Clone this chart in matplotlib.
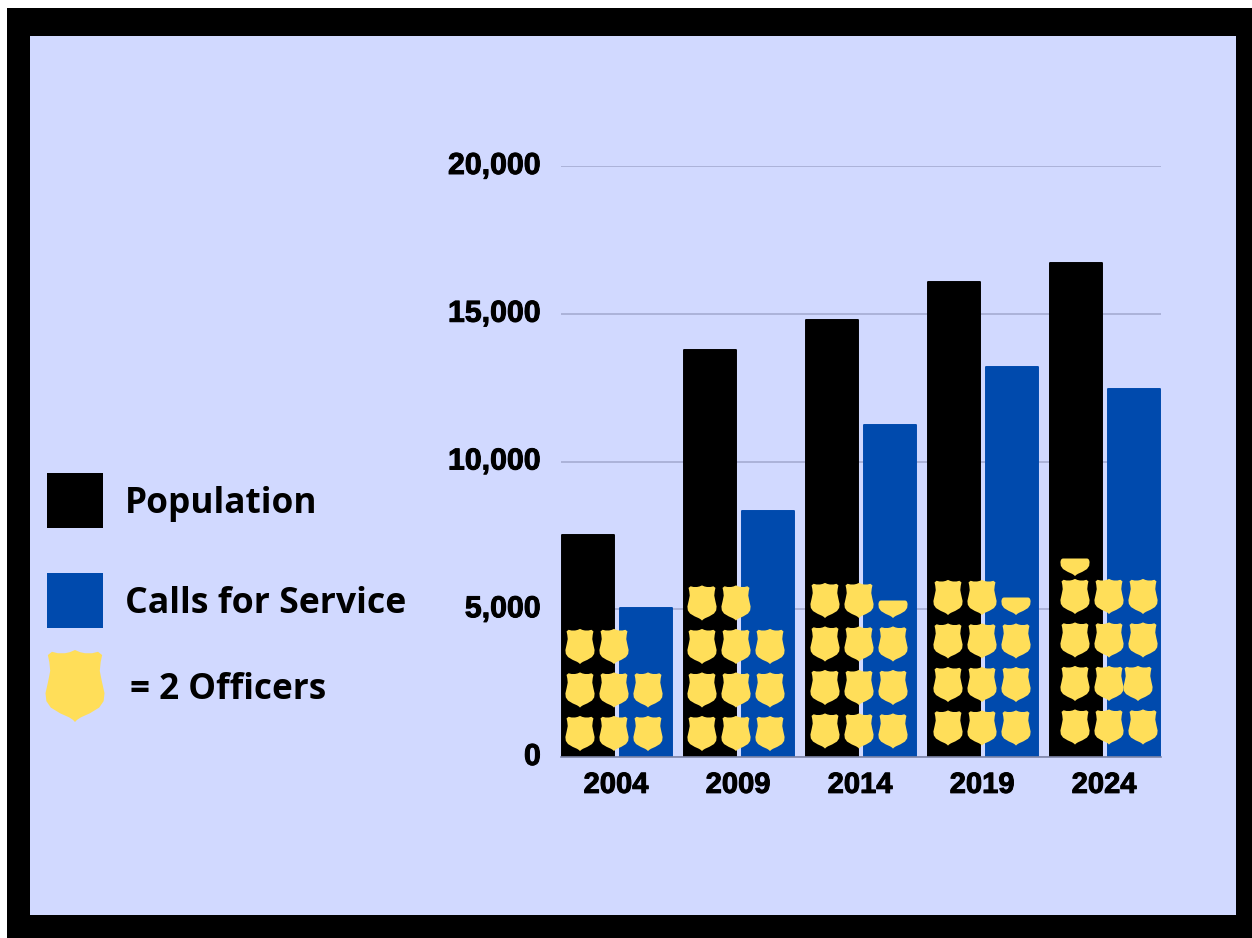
import numpy as np
import matplotlib
matplotlib.use('Agg')
import matplotlib.pyplot as plt
import matplotlib.patheffects as pe
from matplotlib.patches import Rectangle, PathPatch
from matplotlib.path import Path
from matplotlib.transforms import Affine2D, ScaledTranslation

W, H = 1252, 938

years = ['2004', '2009', '2014', '2019', '2024']
population = [7520, 13780, 14790, 16080, 16720]
calls = [5050, 8330, 11240, 13200, 12460]
officers = [16, 22, 23, 23, 25]
yticks = [0, 5000, 10000, 15000, 20000]

BG = '#d1d9ff'
BLUE = '#004aad'
GOLD = '#ffde59'
GRID = '#a9afd6'

# right half of the badge outline, x and y in -1..1
right_side = [(0, 1), (.17, .94), (.34, .91), (.58, .91), (.78, .95), (.92, .86), (.87, .66),
              (.84, .42), (.91, .13), (1, -.2), (.97, -.42), (.82, -.6), (.5, -.76),
              (.2, -.87), (.07, -.94), (0, -1)]
right_half = [(.84, 0), (.92, -.03), (.97, -.1), (1, -.2), (.97, -.42), (.82, -.6), (.5, -.76),
              (.2, -.87), (.07, -.94), (0, -1)]


def mirrored(side):
    pts = side + [(-a, b) for a, b in side[-2::-1]]
    return Path(pts + [pts[0]], closed=True)


FULL = mirrored(right_side)
HALF = mirrored(right_half)


def fig_rect(x0, y0, x1, y1, color, z=0):
    fig.add_artist(Rectangle((x0 / W, 1 - y1 / H), (x1 - x0) / W, (y1 - y0) / H,
                             transform=fig.transFigure, fc=color, ec='none', zorder=z))


fig = plt.figure(figsize=(W / 100, H / 100), dpi=100, facecolor='white')
fig_rect(7, 8, W, H, 'black')
fig_rect(30, 36, 1236, 915, BG)

ax = fig.add_axes([561 / W, 1 - 757 / H, 600 / W, 591 / H])
ax.patch.set_alpha(0)
ax.set_xlim(-0.459, 4.459)
ax.set_ylim(0, 20000)

x = np.arange(len(years))
bw = 52 / 122
off = 29 / 122
ax.bar(x - off, population, bw, color='black', edgecolor='black', linewidth=1.4, joinstyle='round', zorder=2)
ax.bar(x + off, calls, bw, color=BLUE, edgecolor=BLUE, linewidth=1.4, joinstyle='round', zorder=2)

ax.set_yticks(yticks)
ax.set_yticklabels([f'{v:,}' for v in yticks])
ax.set_xticks(x)
ax.set_xticklabels(years)
ax.grid(axis='y', color=GRID, lw=1.3, zorder=1)
ax.set_axisbelow(True)
for side in ['top', 'right', 'left']:
    ax.spines[side].set_visible(False)
ax.spines['bottom'].set_color('#7f86a8')
ax.spines['bottom'].set_linewidth(1.2)
ax.spines['bottom'].set_zorder(3)
ax.tick_params(length=0)
ax.tick_params(axis='x', pad=10)
ax.tick_params(axis='y', pad=14.5)
heavy = [pe.withStroke(linewidth=0.7, foreground='black')]
for t in ax.get_xticklabels() + ax.get_yticklabels():
    t.set_fontfamily('Liberation Sans')
    t.set_fontweight('bold')
    t.set_fontsize(21)
    t.set_color('black')
    t.set_path_effects(heavy)
# y labels sit slightly above their grid lines
up = ScaledTranslation(0, 3 / 100, fig.dpi_scale_trans)
for t in ax.get_yticklabels():
    t.set_fontsize(21.8)
    t.set_transform(t.get_transform() + up)
left = ScaledTranslation(-1 / 100, 0, fig.dpi_scale_trans)
for t in ax.get_xticklabels():
    t.set_transform(t.get_transform() + left)

# officer pictogram, one badge per two officers, filled row by row
px_x = 1 / 122
px_y = 20000 / 591
col_gap = 34 * px_x
row_gap = 43.5 * px_y
start_x = [-37 * px_x, -37 * px_x, -36 * px_x, -35 * px_x, -30 * px_x]
start_y = [23.5 * px_y, 23.5 * px_y, 26 * px_y, 29 * px_y, 30 * px_y]
badge_w = 14.6 * px_x
badge_h = 17.6 * px_y


def draw_badge(path, cx, cy):
    tr = Affine2D().scale(badge_w, badge_h).translate(cx, cy) + ax.transData
    ax.add_patch(PathPatch(path, fc=GOLD, ec='none', transform=tr, zorder=4, clip_on=False))


for i, n in enumerate(officers):
    whole = n // 2
    for k in range(whole):
        r, c = k // 3, k % 3
        # one badge in the 2024 block is pushed left
        nudge = -5 * px_x if (i == 4 and r == 1 and c == 2) else 0
        draw_badge(FULL, i + start_x[i] + c * col_gap + nudge, start_y[i] + r * row_gap)
    if n % 2 == 1:
        r, c = whole // 3, whole % 3
        if c == 0:
            # new row: half badge tucked close to the row below
            draw_badge(HALF, i + start_x[i], start_y[i] + (r - 1) * row_gap + 38 * px_y)
        else:
            draw_badge(HALF, i + start_x[i] + c * col_gap, start_y[i] + r * row_gap)

# legend
fig_rect(47, 473, 103, 528, 'black', 3)
fig_rect(47, 573, 103, 628, BLUE, 3)
leg = dict(family='Open Sans', fontweight='bold', color='black', va='baseline', ha='left')
fig.text(125 / W, 1 - 513 / H, 'Population', fontsize=25.4, **leg)
fig.text(125 / W, 1 - 613 / H, 'Calls for Service', fontsize=25.7, **leg)
fig.text(130 / W, 1 - 699 / H, '= 2 Officers', fontsize=25.2, **leg)
tr = Affine2D().scale(29.5, 36).translate(75, H - 686)
fig.add_artist(PathPatch(FULL, fc=GOLD, ec='none', transform=tr, zorder=4))

fig.savefig('out.png', dpi=100)
